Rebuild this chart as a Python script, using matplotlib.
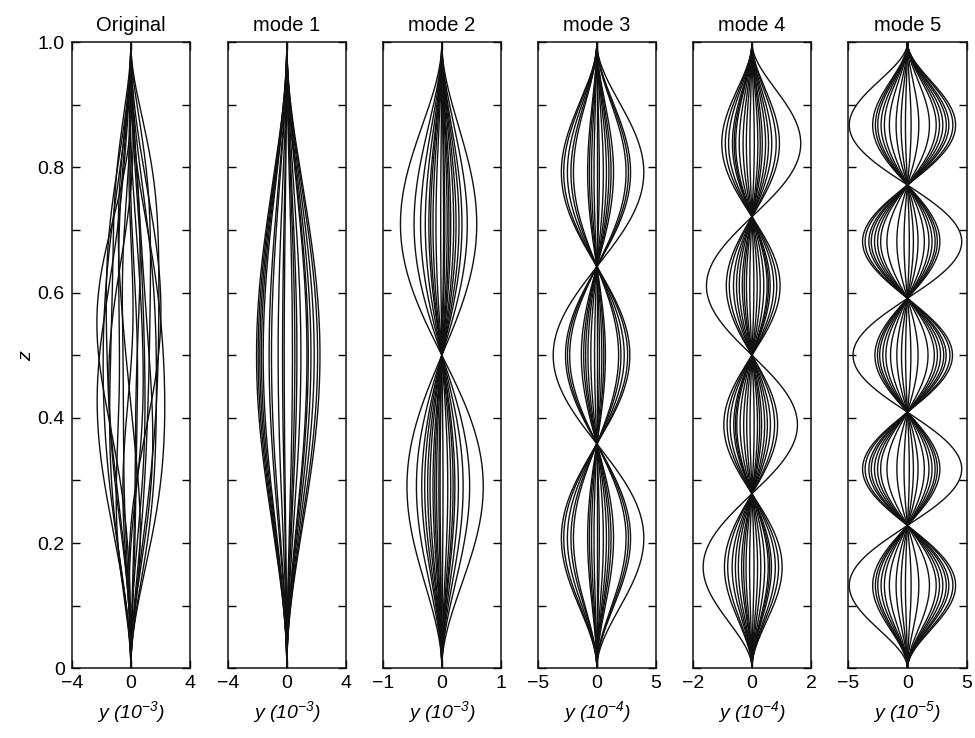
import matplotlib
matplotlib.use("Agg")
import matplotlib.pyplot as plt
import numpy as np

plt.rcParams["font.family"] = ["Liberation Sans", "DejaVu Sans"]
plt.rcParams["mathtext.fontset"] = "custom"
plt.rcParams["mathtext.rm"] = "Liberation Sans:italic"
plt.rcParams["mathtext.it"] = "Liberation Sans:italic"
plt.rcParams["mathtext.default"] = "it"

# clamped-clamped beam eigenvalues (beta * L) for the first five modes
betas = [4.730041, 7.853205, 10.995608, 14.137165, 17.278760]

# modal amplitudes per snapshot, in the units of each panel's x axis
amp1 = [0.38, 1.36, 2.08, 2.24, 1.63, 0.68, -0.29, -1.20, -1.83, -2.05,
        -1.72, -1.04, -0.18, 0.95, 1.85, 1.45, 0.54, -0.59, -1.60, -1.94]      # 1e-3
amp2 = [0.15, 0.36, -0.29, 0.47, -0.59, 0.02, 0.70, -0.34, 0.28, -0.43,
        0.19, -0.12, -0.24, 0.10, 0.22, -0.20, -0.15, -0.03, -0.05, -0.09]     # 1e-3
amp3 = [-0.45, 1.20, 2.85, 0.21, -2.49, -1.98, 0.81, 2.67, 3.97, 0.55,
        -0.78, -3.00, -2.19, 0.0, 1.41, 2.47, 1.02, -0.24, -2.80, -0.63]       # 1e-4
amp4 = [0.43, -0.20, -0.93, 0.90, 0.07, -0.56, 1.02, -0.35, -1.65, 0.66,
        0.19, -0.82, 0.55, -0.08, 0.79, -0.46, 0.30, -0.67, 0.60, -0.28]       # 1e-4
amp5 = [2.43, -1.53, 3.84, -2.71, 0.31, -4.92, 2.99, -0.54, 1.86, -2.23,
        4.07, -0.96, 3.28, -2.94, -0.17, 2.71, -1.95, 3.50, -2.51, 0.96]       # 1e-5

titles = ["Original", "mode 1", "mode 2", "mode 3", "mode 4", "mode 5"]
xlims = [4, 4, 1, 5, 2, 5]
exps = [-3, -3, -3, -4, -4, -5]
# factor bringing each mode's units to 1e-3 for the summed response
to_milli = [1.0, 1.0, 0.1, 0.1, 0.01]


def beam_mode(beta, z):
    sigma = (np.cosh(beta) - np.cos(beta)) / (np.sinh(beta) - np.sin(beta))
    phi = np.cosh(beta * z) - np.cos(beta * z) - sigma * (np.sinh(beta * z) - np.sin(beta * z))
    return phi / np.abs(phi).max()


z = np.linspace(0, 1, 600)
shapes = [beam_mode(b, z) for b in betas]
amps = [amp1, amp2, amp3, amp4, amp5]

fig = plt.figure(figsize=(9.75, 7.38), dpi=100)
lefts = [71.7, 227.7, 382.7, 537.7, 692.8, 848.3]
w, bottom, h = 118.3 / 975, 1 - 668.3 / 738, 626 / 738

for i, title in enumerate(titles):
    ax = fig.add_axes([lefts[i] / 975, bottom, w, h])
    if i == 0:
        for k in range(len(amp1)):
            y = sum(to_milli[m] * amps[m][k] * shapes[m] for m in range(5))
            ax.plot(y, z, color="#111111", lw=1.0)
    else:
        for a in amps[i - 1]:
            ax.plot(a * shapes[i - 1], z, color="#111111", lw=1.0)

    lim = xlims[i]
    ax.set_xlim(-lim, lim)
    ax.set_ylim(0, 1)
    ax.set_xticks([-lim, 0, lim])
    ax.set_xticklabels([f"\u2212{lim}", "0", f"{lim}"])
    ax.set_yticks(np.arange(0, 1.01, 0.1))
    if i == 0:
        ax.set_yticklabels(["0", "", "0.2", "", "0.4", "", "0.6", "", "0.8", "", "1.0"])
        ax.set_ylabel(r"$z$", fontsize=14)
        ax.yaxis.set_label_coords(-0.31, 0.5)
    else:
        ax.set_yticklabels([])
    ax.tick_params(direction="in", length=6, width=1, labelsize=14,
                   left=True, right=True, top=True, bottom=True, pad=5)
    for s in ax.spines.values():
        s.set_linewidth(1.1)
        s.set_color("#111111")
    ax.set_title(title, fontsize=14.5, pad=8)
    ax.set_xlabel(r"$y\ (10^{%d})$" % exps[i], fontsize=14, labelpad=5)

fig.savefig("out.png", dpi=100)
